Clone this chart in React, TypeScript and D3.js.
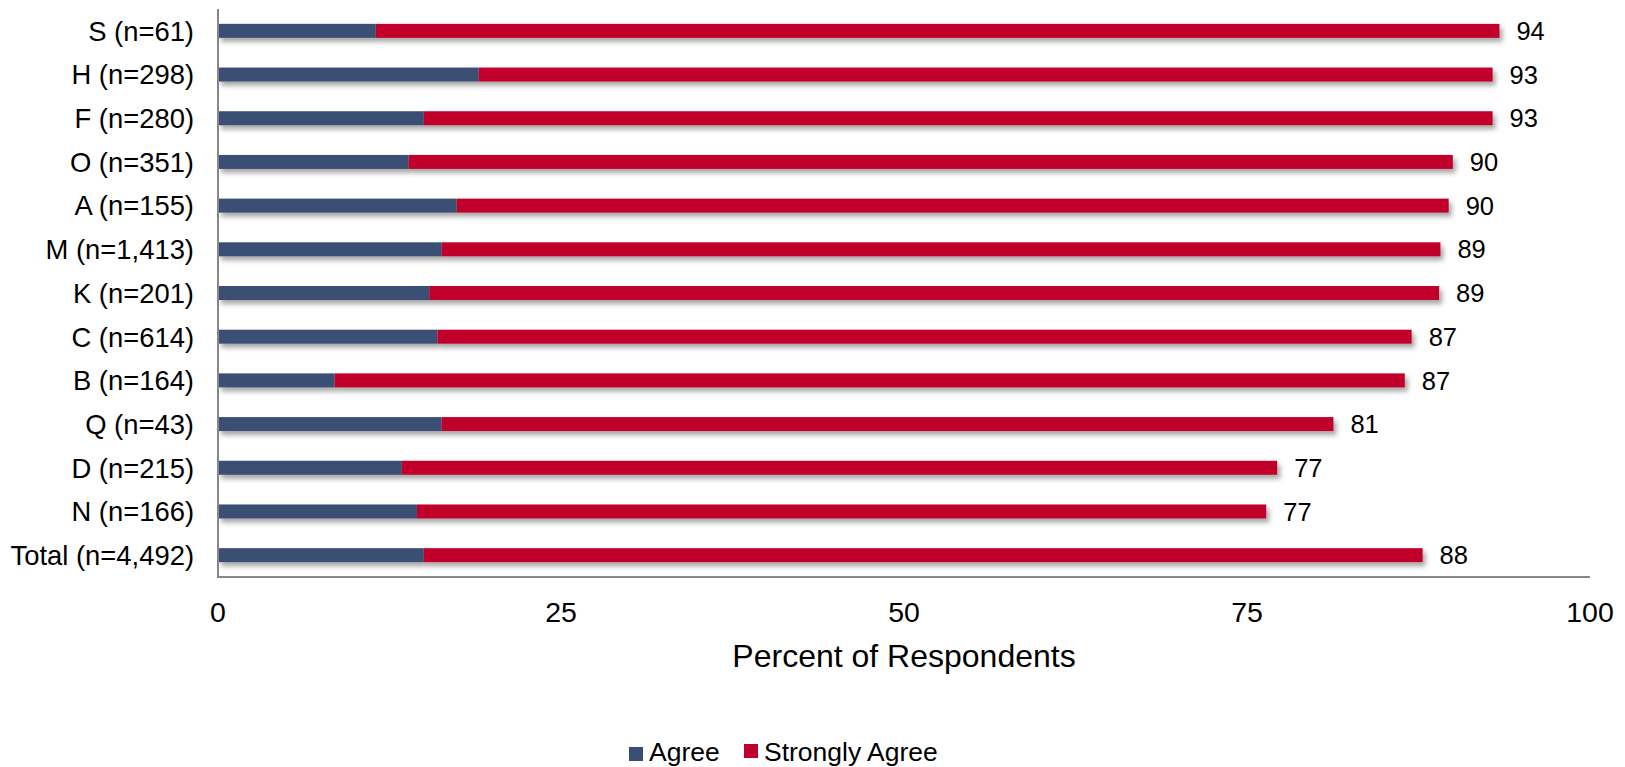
import React from "react";
import * as d3 from "d3";

const categories = [
  "S (n=61)",
  "H (n=298)",
  "F (n=280)",
  "O (n=351)",
  "A (n=155)",
  "M (n=1,413)",
  "K (n=201)",
  "C (n=614)",
  "B (n=164)",
  "Q (n=43)",
  "D (n=215)",
  "N (n=166)",
  "Total (n=4,492)",
];
const agree = [11.5, 19.0, 15.0, 13.9, 17.4, 16.3, 15.4, 16.0, 8.5, 16.3, 13.4, 14.5, 15.0];
const stronglyAgree = [81.9, 73.9, 77.9, 76.1, 72.3, 72.8, 73.6, 71.0, 78.0, 65.0, 63.8, 61.9, 72.8];
const totalLabels = ["94", "93", "93", "90", "90", "89", "89", "87", "87", "81", "77", "77", "88"];
const xTicks = [0, 25, 50, 75, 100];
const seriesNames = ["Agree", "Strongly Agree"];
const seriesColors = ["#3A4F75", "#C0002C"];

const W = 1625;
const H = 767;
const FONT = "'Liberation Sans', Arial, Helvetica, sans-serif";

export default function App() {
  const x = d3.scaleLinear().domain([0, 100]).range([218, 1590]);
  const y = d3
    .scaleBand<string>()
    .domain(categories)
    .range([9, 577])
    .paddingInner(0.68)
    .paddingOuter(0.34);
  const bw = y.bandwidth();

  const rows = categories.map((c, i) => ({
    cat: c,
    a: agree[i],
    s: stronglyAgree[i],
    label: totalLabels[i],
  }));

  return (
    <svg
      width={W}
      height={H}
      style={{ position: "absolute", left: 0, top: 0, background: "#fff" }}
      fontFamily={FONT}
    >
      <defs>
        <filter id="shadow" x="-5%" y="-50%" width="110%" height="250%">
          <feDropShadow dx="3" dy="4" stdDeviation="2.5" floodColor="#000" floodOpacity="0.35" />
        </filter>
      </defs>

      {/* bars */}
      {rows.map((r) => {
        const y0 = y(r.cat)!;
        const cy = y0 + bw / 2;
        return (
          <g key={r.cat}>
            <g filter="url(#shadow)">
              <rect x={x(0)} y={y0} width={x(r.a) - x(0)} height={bw} fill={seriesColors[0]} />
              <rect x={x(r.a)} y={y0} width={x(r.a + r.s) - x(r.a)} height={bw} fill={seriesColors[1]} />
            </g>
            <text
              x={x(r.a + r.s) + 17}
              y={cy}
              dy="0.36em"
              fontSize={25.5}
              fill="#000"
            >
              {r.label}
            </text>
            <text x={194} y={cy} dy="0.36em" fontSize={27.4} textAnchor="end" fill="#000">
              {r.cat}
            </text>
          </g>
        );
      })}

      {/* axes */}
      <line x1={x(0)} x2={x(0)} y1={9} y2={578} stroke="#878787" strokeWidth={2} />
      <line x1={x(0) - 1} x2={x(100)} y1={577} y2={577} stroke="#878787" strokeWidth={2} />

      {xTicks.map((t) => (
        <text key={t} x={x(t)} y={622} fontSize={28.5} textAnchor="middle" fill="#000">
          {t}
        </text>
      ))}
      <text x={(x(0) + x(100)) / 2} y={667} fontSize={32} textAnchor="middle" fill="#000">
        Percent of Respondents
      </text>

      {/* legend */}
      <g>
        <rect x={629} y={747} width={14} height={14} fill={seriesColors[0]} />
        <text x={649} y={761} fontSize={26.5} fill="#000">
          {seriesNames[0]}
        </text>
        <rect x={744} y={744} width={14} height={14} fill={seriesColors[1]} />
        <text x={764} y={761} fontSize={26.5} fill="#000">
          {seriesNames[1]}
        </text>
      </g>
    </svg>
  );
}
